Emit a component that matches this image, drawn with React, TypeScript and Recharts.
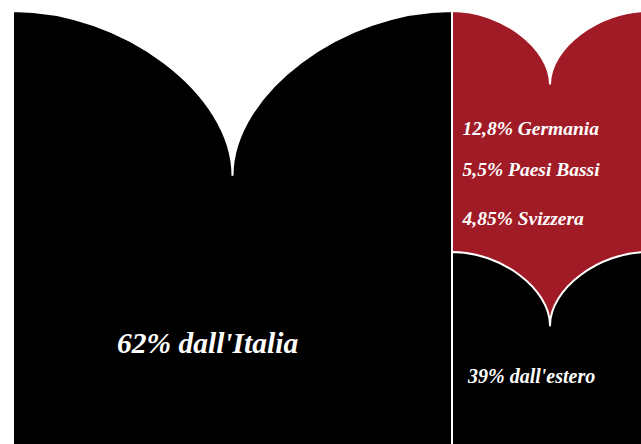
import { Treemap } from "recharts";

// three blocks of the picture: Italy, the three main foreign countries, the rest abroad
const cellNames = ["Italia", "Germania, Paesi Bassi, Svizzera", "Estero"];
const cellKinds = ["italia", "top", "estero"];
// block areas as they appear in the picture (share of the drawing, %)
const cellSizes = [69.1, 16.9, 14.0];

const italiaLabel = "62% dall'Italia";
const esteroLabel = "39% dall'estero";
const countryShares = ["12,8%", "5,5%", "4,85%"];
const countryNames = ["Germania", "Paesi Bassi", "Svizzera"];

const RED = "#a11b26";
const INK = "#000000";
const PAPER = "#ffffff";
const FONT = "'Liberation Serif', 'DejaVu Serif', serif";

const treeData = [
    { name: cellNames[0], kind: cellKinds[0], size: cellSizes[0] },
    {
        name: "Estero",
        children: [
            { name: cellNames[1], kind: cellKinds[1], size: cellSizes[1] },
            { name: cellNames[2], kind: cellKinds[2], size: cellSizes[2] },
        ],
    },
];

// open-book top: two curves meeting in a cusp at the middle of the block
function bookPath(x: number, y: number, w: number, h: number, dip: number) {
    const hw = w / 2;
    const cx = x + hw;
    const cy = y + dip;
    return (
        `M${x},${y + h} L${x},${y} ` +
        `C${x + hw * 0.5},${y} ${cx},${cy - dip * 0.5} ${cx},${cy} ` +
        `C${cx},${cy - dip * 0.5} ${x + w - hw * 0.5},${y} ${x + w},${y} ` +
        `L${x + w},${y + h} Z`
    );
}

const textStyle = {
    fontFamily: FONT,
    fontStyle: "italic" as const,
    fontWeight: 700,
    fill: PAPER,
};

function BookCell(props: any) {
    const { x, y, width, height, kind } = props;
    if (!kind || !width || !height) return <g />;
    const dip = width * 0.375;
    const d = bookPath(x, y, width, height, dip);

    if (kind === "italia") {
        return (
            <g>
                <path d={d} fill={INK} stroke={PAPER} strokeWidth={2} />
                <text x={x + width * 0.237} y={y + 342} fontSize={29.5} style={textStyle}>
                    {italiaLabel}
                </text>
            </g>
        );
    }

    if (kind === "top") {
        const lines = [124, 165, 214];
        return (
            <g>
                <path d={d} fill={RED} stroke={PAPER} strokeWidth={2} />
                {countryNames.map((c, i) => (
                    <text key={c} x={x + 10.5} y={y + lines[i]} fontSize={19.5} style={textStyle}>
                        {`${countryShares[i]} ${c}`}
                    </text>
                ))}
            </g>
        );
    }

    // the red of the block above shows through the dip of this one
    return (
        <g>
            <rect x={x + 1} y={y - 1.5} width={width - 2} height={dip + 2} fill={RED} />
            <path d={d} fill={INK} stroke={PAPER} strokeWidth={2} strokeLinejoin="round" />
            <text x={x + 16} y={y + 131} fontSize={20} style={textStyle}>
                {esteroLabel}
            </text>
        </g>
    );
}

export default function App() {
    return (
        <div style={{ position: "fixed", left: 0, top: 0, width: 641, height: 444, overflow: "hidden", background: PAPER }}>
            <div style={{ position: "absolute", left: 13, top: 11 }}>
                <Treemap
                    width={635}
                    height={440}
                    data={treeData}
                    dataKey="size"
                    content={(p: any) => <BookCell {...p} />}
                    isAnimationActive={false}
                />
            </div>
        </div>
    );
}
